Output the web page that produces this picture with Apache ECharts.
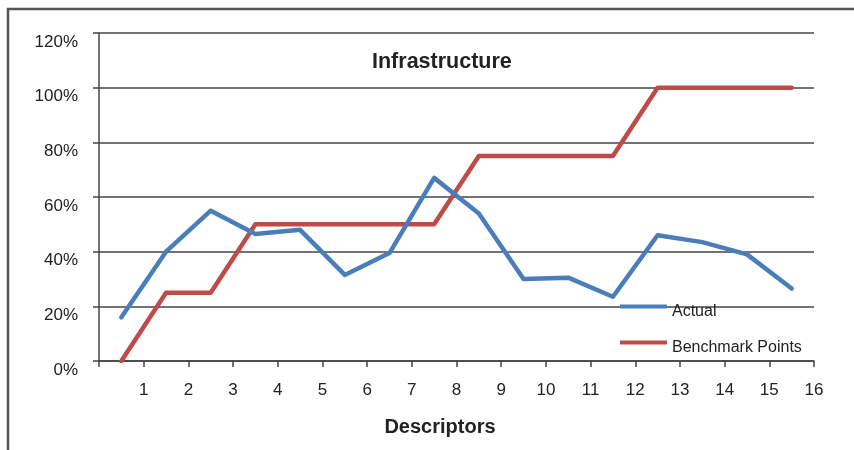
<!DOCTYPE html>
<html>
<head>
<meta charset="utf-8">
<script src="https://cdn.jsdelivr.net/npm/echarts@6/dist/echarts.min.js"></script>
<style>
  html, body { margin: 0; padding: 0; background: #fff; }
  #chart { width: 854px; height: 450px; }
</style>
</head>
<body>
<div id="chart"></div>
<script>
// Descriptor positions sit midway between the numbered ticks
const descriptorPos = [0.5, 1.5, 2.5, 3.5, 4.5, 5.5, 6.5, 7.5, 8.5, 9.5, 10.5, 11.5, 12.5, 13.5, 14.5, 15.5];
// Scores in percent
const actual = [16, 40, 55, 46.5, 48, 31.5, 39.5, 67, 54, 30, 30.5, 23.5, 46, 43.5, 39, 26.5];
const benchmark = [0, 25, 25, 50, 50, 50, 50, 50, 75, 75, 75, 75, 100, 100, 100, 100];
const seriesNames = ['Actual', 'Benchmark Points'];
const titleText = 'Infrastructure';
const xAxisTitle = 'Descriptors';

const pair = (vals) => descriptorPos.map((x, i) => [x, vals[i]]);

const chart = echarts.init(document.getElementById('chart'), null, { renderer: 'canvas' });
const axisColor = '#444';
const textColor = '#222';
const font = 'Arial, "Liberation Sans", sans-serif';

chart.setOption({
  animation: false,
  backgroundColor: '#fff',
  title: {
    text: titleText,
    left: 372,
    top: 51,
    padding: 0,
    textStyle: { fontFamily: font, fontSize: 21.5, fontWeight: 'bold', color: textColor }
  },
  legend: {
    orient: 'vertical',
    left: 620,
    top: 293,
    padding: 0,
    itemGap: 9,
    itemWidth: 47,
    itemHeight: 4,
    icon: 'rect',
    data: seriesNames,
    formatter: (name) => '{t|' + name + '}',
    textStyle: {
      fontFamily: font, fontSize: 16, color: textColor,
      rich: { t: { fontFamily: font, fontSize: 16, color: textColor, lineHeight: 18, padding: [11, 0, 0, 0] } }
    }
  },
  grid: { left: 99, right: 40, top: 33, bottom: 89, containLabel: false },
  xAxis: {
    type: 'value',
    min: 0,
    max: 16,
    interval: 1,
    name: xAxisTitle,
    nameLocation: 'middle',
    nameGap: 56,
    nameTextStyle: { fontFamily: font, fontSize: 20, fontWeight: 'bold', color: textColor, padding: [0, 33, 0, 0] },
    axisLine: { show: true, onZero: false, lineStyle: { color: axisColor, width: 1.5 } },
    axisTick: { show: true, length: 6, lineStyle: { color: axisColor, width: 1.5 } },
    axisLabel: {
      margin: 21,
      fontFamily: font, fontSize: 17, color: textColor,
      formatter: (v) => (v === 0 ? '' : String(v))
    },
    splitLine: { show: false }
  },
  yAxis: {
    type: 'value',
    min: 0,
    max: 120,
    interval: 20,
    axisLine: { show: true, lineStyle: { color: axisColor, width: 1.5 } },
    axisTick: { show: true, length: 6, lineStyle: { color: axisColor, width: 1.5 } },
    axisLabel: {
      margin: 21,
      fontFamily: font, fontSize: 17, color: textColor,
      verticalAlign: 'top',
      lineHeight: 18,
      formatter: (v) => v + '%'
    },
    splitLine: { show: true, lineStyle: { color: axisColor, width: 1.5 } }
  },
  series: [
    {
      name: seriesNames[0],
      type: 'line',
      data: pair(actual),
      symbol: 'none',
      color: '#4A7EBB',
      lineStyle: { width: 4.5, color: '#4A7EBB', join: 'round', cap: 'round' },
      z: 3
    },
    {
      name: seriesNames[1],
      type: 'line',
      data: pair(benchmark),
      symbol: 'none',
      color: '#BE4B48',
      lineStyle: { width: 4.5, color: '#BE4B48', join: 'round', cap: 'round' },
      z: 2
    }
  ],
  graphic: [
    {
      // outer chart frame; only the top and left edges fall inside the canvas
      type: 'rect',
      shape: { x: 8, y: 9, width: 900, height: 500 },
      style: { fill: 'none', stroke: '#555', lineWidth: 2.5 },
      silent: true
    }
  ]
});
</script>
</body>
</html>
